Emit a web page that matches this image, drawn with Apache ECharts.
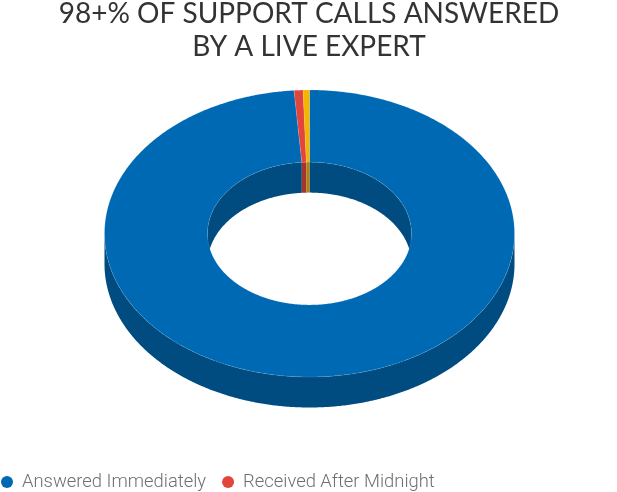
<!DOCTYPE html>
<html>
<head>
<meta charset="utf-8">
<style>html,body{margin:0;padding:0;background:#fff}#c{width:617px;height:492px}</style>
<script src="https://cdn.jsdelivr.net/npm/echarts@6/dist/echarts.min.js"></script>
</head>
<body>
<div id="c"></div>
<script>
const categories = ['Answered Immediately', 'Received After Midnight', 'Returned in <7 Min'];
const values = [98.8, 0.7, 0.5];
const colors = ['#0069b4', '#e2453c', '#f5b400'];
const wallColors = ['#004b80', '#a3352e', '#b0820f'];

const geo = { cx: 309.5, cy: 233.5, rx: 205, ry: 143.5, inner: 0.4975, depth: 30.5 };
const total = values.reduce((a, b) => a + b, 0);

function pt(theta, k, dy) {
  return [geo.cx + geo.rx * k * Math.sin(theta), geo.cy - geo.ry * k * Math.cos(theta) + dy];
}
function arc(a0, a1, k, dy) {
  const n = Math.max(2, Math.ceil(Math.abs(a1 - a0) / 0.008));
  const out = [];
  for (let i = 0; i <= n; i++) out.push(pt(a0 + (a1 - a0) * i / n, k, dy));
  return out;
}
function strip(a0, a1, k, color) {
  return {
    type: 'polygon', z2: 1, silent: true,
    shape: { points: arc(a0, a1, k, 0).concat(arc(a1, a0, k, geo.depth)) },
    style: { fill: color }
  };
}
function clip(a0, a1, lo, hi, k, color, list) {
  const s = Math.max(a0, lo), e = Math.min(a1, hi);
  if (e > s) list.push(strip(s, e, k, color));
}
function makeSeries(idx) {
  const before = values.slice(0, idx).reduce((a, b) => a + b, 0);
  return {
    type: 'custom', name: categories[idx], coordinateSystem: 'none',
    itemStyle: { color: colors[idx] },
    data: [[before, values[idx]]],
    renderItem(params, api) {
      const a0 = api.value(0) / total * 2 * Math.PI;
      const a1 = (api.value(0) + api.value(1)) / total * 2 * Math.PI;
      const P = Math.PI;
      const kids = [];
      clip(a0, a1, P / 2, 1.5 * P, 1, wallColors[idx], kids);
      clip(a0, a1, 0, P / 2, geo.inner, wallColors[idx], kids);
      clip(a0, a1, 1.5 * P, 2 * P, geo.inner, wallColors[idx], kids);
      kids.push({
        type: 'polygon', z2: 10,
        shape: { points: arc(a0, a1, 1, 0).concat(arc(a1, a0, geo.inner, 0)) },
        style: { fill: colors[idx], stroke: 'rgba(255,255,255,0.22)', lineWidth: 0.5 }
      });
      return { type: 'group', children: kids };
    }
  };
}

const chart = echarts.init(document.getElementById('c'), null, { renderer: 'canvas' });
chart.setOption({
  animation: false,
  backgroundColor: '#fff',
  color: colors,
  title: {
    text: '98+% OF SUPPORT CALLS ANSWERED\nBY A LIVE EXPERT',
    left: 304, top: -8, textAlign: 'center',
    textStyle: { fontFamily: 'Lato', fontSize: 28, fontWeight: 400, color: '#333', lineHeight: 33.5 }
  },
  legend: {
    data: categories.map(name => ({ name, icon: 'circle' })),
    left: 1, right: -30, top: 473, padding: 0, align: 'left',
    itemWidth: 12, itemHeight: 12, itemGap: 16,
    textStyle: { fontFamily: 'Roboto', fontSize: 18.4, fontWeight: 300, color: '#6f6f6f', padding: [0, 0, 0, 4] }
  },
  series: categories.map((_, i) => makeSeries(i))
});
</script>
</body>
</html>
